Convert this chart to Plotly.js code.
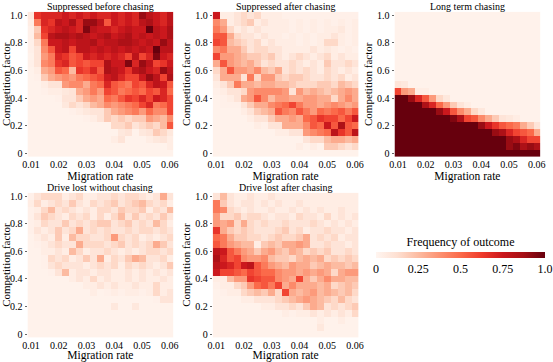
<!DOCTYPE html>
<html>
<head>
<meta charset="utf-8">
<script src="https://cdn.plot.ly/plotly-3.0.1.min.js"></script>
<style>html,body{margin:0;padding:0;background:#fff;}#chart{width:553px;height:362px;}</style>
</head>
<body>
<div id="chart"></div>
<script>
// Migration rate (columns) and competition factor (rows, listed top to bottom)
const migrationRate = [0.01,0.0125,0.015,0.0175,0.02,0.0225,0.025,0.0275,0.03,0.0325,0.035,0.0375,0.04,0.0425,0.045,0.0475,0.05,0.0525,0.055,0.0575,0.06];
const competitionFactor = [1.0,0.95,0.9,0.85,0.8,0.75,0.7,0.65,0.6,0.55,0.5,0.45,0.4,0.35,0.3,0.25,0.2,0.15,0.1,0.05,0.0];
const xTickVals = [0.01,0.02,0.03,0.04,0.05,0.06];
const xTickText = ['0.01','0.02','0.03','0.04','0.05','0.06'];
const yTickVals = [0,0.2,0.4,0.6,0.8,1.0];
const yTickText = ['0','0.2','0.4','0.6','0.8','1.0'];
const cbTickVals = [0,0.25,0.5,0.75,1.0];
const cbTickText = ['0','0.25','0.5','0.75','1.0'];
const panelTitles = ['Suppressed before chasing','Suppressed after chasing','Long term chasing','Drive lost without chasing','Drive lost after chasing'];

// Frequency of outcome, rows from competition factor 1.0 (top) to 0 (bottom)
const suppressedBefore = [
[0.08,0.65,0.7,0.7,0.7,0.75,0.7,0.75,0.7,0.75,0.7,0.7,0.75,0.7,0.75,0.7,0.9,0.8,0.75,0.7,0.8],
[0.05,0.45,0.7,0.65,0.8,0.75,0.85,0.7,0.9,0.9,0.8,0.55,0.75,0.7,0.75,0.7,0.8,0.85,0.75,0.7,0.8],
[0.03,0.2,0.65,0.7,0.75,0.8,0.75,0.7,0.95,0.8,0.75,0.75,0.7,0.75,0.8,0.75,0.75,1.0,0.8,0.75,0.85],
[0.03,0.25,0.6,0.8,0.85,0.85,0.8,0.85,0.8,0.75,0.8,0.85,0.75,0.8,0.85,0.75,0.8,0.75,0.8,0.75,0.85],
[0.03,0.15,0.45,0.75,0.75,0.8,0.75,0.8,0.8,0.85,0.75,0.8,0.8,0.85,0.85,0.8,0.75,0.8,0.75,0.9,0.8],
[0.03,0.1,0.4,0.55,0.75,0.8,0.6,0.8,0.8,0.75,0.8,0.75,0.8,0.75,0.8,0.75,0.8,0.75,1.0,0.8,0.8],
[0.02,0.1,0.35,0.45,0.7,0.65,0.55,0.6,0.75,0.7,0.75,0.7,0.75,0.7,0.6,0.8,0.6,0.7,0.95,0.75,0.7],
[0.03,0.1,0.4,0.45,0.65,0.7,0.55,0.6,0.55,0.6,0.6,0.85,0.75,0.75,0.95,0.7,0.9,0.8,0.6,0.65,0.75],
[0.02,0.05,0.3,0.35,0.55,0.5,0.25,0.65,0.6,0.7,0.55,0.85,0.8,0.75,0.65,0.8,0.85,0.75,0.7,0.9,0.8],
[0.02,0.03,0.2,0.3,0.35,0.4,0.35,0.45,0.5,0.55,0.6,0.75,0.8,0.7,0.6,0.6,0.75,0.9,0.8,0.6,0.85],
[0.02,0.02,0.05,0.1,0.1,0.35,0.4,0.4,0.3,0.45,0.5,0.7,0.55,0.5,0.45,0.6,0.55,0.7,0.8,0.75,0.55],
[0.02,0.02,0.03,0.05,0.05,0.08,0.1,0.3,0.35,0.45,0.35,0.6,0.55,0.45,0.5,0.55,0.5,0.6,0.55,0.7,0.5],
[0.02,0.02,0.02,0.02,0.03,0.1,0.1,0.2,0.3,0.35,0.3,0.5,0.45,0.55,0.65,0.6,0.7,0.6,0.75,0.7,0.6],
[0.02,0.02,0.02,0.02,0.02,0.08,0.15,0.1,0.15,0.25,0.3,0.4,0.35,0.4,0.45,0.5,0.6,0.7,0.45,0.5,0.6],
[0.02,0.02,0.02,0.02,0.02,0.02,0.03,0.05,0.08,0.1,0.1,0.2,0.3,0.35,0.4,0.45,0.35,0.5,0.4,0.4,0.6],
[0.02,0.02,0.02,0.02,0.02,0.02,0.02,0.02,0.03,0.05,0.1,0.2,0.15,0.2,0.15,0.2,0.2,0.35,0.3,0.25,0.4],
[0.02,0.02,0.02,0.02,0.02,0.02,0.02,0.02,0.02,0.02,0.02,0.02,0.15,0.15,0.2,0.1,0.15,0.2,0.15,0.25,0.55],
[0.02,0.02,0.02,0.02,0.02,0.02,0.02,0.02,0.02,0.02,0.02,0.02,0.02,0.08,0.1,0.02,0.08,0.1,0.2,0.15,0.08],
[0.02,0.02,0.02,0.02,0.02,0.02,0.02,0.02,0.02,0.02,0.02,0.02,0.05,0.1,0.02,0.02,0.02,0.05,0.08,0.1,0.05],
[0.02,0.02,0.02,0.02,0.02,0.02,0.02,0.02,0.02,0.02,0.02,0.02,0.02,0.02,0.02,0.02,0.02,0.02,0.02,0.02,0.05],
[0.02,0.02,0.02,0.02,0.02,0.02,0.02,0.02,0.02,0.02,0.02,0.02,0.02,0.02,0.02,0.02,0.02,0.02,0.02,0.02,0.02]
];

const suppressedAfter = [
[0.75,0.05,0.05,0.1,0.15,0.1,0.15,0.05,0.05,0.05,0.03,0.03,0.03,0.03,0.03,0.03,0.03,0.03,0.03,0.03,0.03],
[0.4,0.3,0.05,0.1,0.15,0.2,0.05,0.1,0.05,0.05,0.05,0.03,0.05,0.03,0.05,0.03,0.05,0.03,0.05,0.03,0.05],
[0.45,0.35,0.15,0.05,0.1,0.05,0.1,0.05,0.05,0.05,0.05,0.03,0.05,0.03,0.05,0.03,0.05,0.05,0.08,0.03,0.05],
[0.55,0.55,0.3,0.15,0.1,0.1,0.05,0.1,0.05,0.05,0.03,0.05,0.03,0.05,0.03,0.05,0.05,0.1,0.05,0.03,0.05],
[0.6,0.55,0.25,0.2,0.15,0.1,0.15,0.05,0.1,0.05,0.05,0.05,0.03,0.05,0.03,0.05,0.15,0.15,0.05,0.03,0.05],
[0.4,0.45,0.3,0.3,0.2,0.1,0.15,0.15,0.1,0.1,0.05,0.05,0.05,0.05,0.1,0.05,0.08,0.05,0.03,0.05,0.03],
[0.6,0.35,0.35,0.3,0.25,0.2,0.2,0.15,0.2,0.1,0.05,0.1,0.15,0.1,0.05,0.1,0.15,0.05,0.1,0.05,0.05],
[0.3,0.55,0.35,0.3,0.25,0.3,0.2,0.1,0.15,0.1,0.1,0.15,0.1,0.05,0.1,0.05,0.2,0.1,0.1,0.15,0.1],
[0.15,0.3,0.55,0.35,0.35,0.3,0.4,0.25,0.2,0.3,0.1,0.15,0.1,0.15,0.1,0.05,0.15,0.1,0.05,0.1,0.05],
[0.1,0.3,0.3,0.3,0.1,0.45,0.15,0.35,0.35,0.2,0.15,0.2,0.2,0.15,0.1,0.1,0.15,0.1,0.15,0.05,0.1],
[0.05,0.1,0.2,0.45,0.3,0.3,0.25,0.3,0.3,0.25,0.25,0.2,0.15,0.15,0.15,0.2,0.2,0.15,0.25,0.2,0.15],
[0.03,0.05,0.1,0.1,0.15,0.35,0.4,0.4,0.4,0.4,0.35,0.1,0.35,0.25,0.3,0.25,0.2,0.25,0.3,0.35,0.3],
[0.02,0.03,0.05,0.1,0.3,0.35,0.55,0.4,0.25,0.35,0.35,0.3,0.3,0.35,0.35,0.3,0.3,0.15,0.3,0.4,0.3],
[0.02,0.03,0.03,0.03,0.1,0.2,0.3,0.3,0.4,0.45,0.5,0.6,0.45,0.35,0.35,0.3,0.35,0.4,0.35,0.3,0.35],
[0.02,0.02,0.02,0.02,0.05,0.1,0.2,0.25,0.3,0.55,0.45,0.4,0.55,0.45,0.35,0.5,0.45,0.5,0.55,0.45,0.55],
[0.02,0.02,0.02,0.02,0.02,0.05,0.1,0.1,0.2,0.3,0.3,0.35,0.3,0.5,0.55,0.65,0.6,0.6,0.5,0.6,0.75],
[0.02,0.02,0.02,0.02,0.02,0.02,0.05,0.03,0.1,0.1,0.3,0.3,0.3,0.4,0.55,0.5,0.75,0.55,0.85,0.55,0.5],
[0.02,0.02,0.02,0.02,0.02,0.02,0.02,0.02,0.02,0.05,0.05,0.1,0.1,0.35,0.4,0.45,0.5,0.8,0.65,0.55,0.8],
[0.02,0.02,0.02,0.02,0.02,0.02,0.02,0.02,0.02,0.02,0.02,0.02,0.02,0.1,0.15,0.15,0.25,0.3,0.3,0.25,0.3],
[0.02,0.02,0.02,0.02,0.02,0.02,0.02,0.02,0.02,0.02,0.02,0.02,0.05,0.02,0.05,0.02,0.2,0.2,0.15,0.1,0.15],
[0.02,0.02,0.02,0.02,0.02,0.02,0.02,0.02,0.02,0.02,0.02,0.02,0.02,0.02,0.02,0.02,0.02,0.02,0.02,0.02,0.02]
];

const longTermChasing = [
[0.02,0.02,0.02,0.02,0.02,0.02,0.02,0.02,0.02,0.02,0.02,0.02,0.02,0.02,0.02,0.02,0.02,0.02,0.02,0.02,0.02],
[0.02,0.02,0.02,0.02,0.02,0.02,0.02,0.02,0.02,0.02,0.02,0.02,0.02,0.02,0.02,0.02,0.02,0.02,0.02,0.02,0.02],
[0.02,0.02,0.02,0.02,0.02,0.02,0.02,0.02,0.02,0.02,0.02,0.02,0.02,0.02,0.02,0.02,0.02,0.02,0.02,0.02,0.02],
[0.02,0.02,0.02,0.02,0.02,0.02,0.02,0.02,0.02,0.02,0.02,0.02,0.02,0.02,0.02,0.02,0.02,0.02,0.02,0.02,0.02],
[0.02,0.02,0.02,0.02,0.02,0.02,0.02,0.02,0.02,0.02,0.02,0.02,0.02,0.02,0.02,0.02,0.02,0.02,0.02,0.02,0.02],
[0.02,0.02,0.02,0.02,0.02,0.02,0.02,0.02,0.02,0.02,0.02,0.02,0.02,0.02,0.02,0.02,0.02,0.02,0.02,0.02,0.02],
[0.02,0.02,0.02,0.02,0.02,0.02,0.02,0.02,0.02,0.02,0.02,0.02,0.02,0.02,0.02,0.02,0.02,0.02,0.02,0.02,0.02],
[0.02,0.02,0.02,0.02,0.02,0.02,0.02,0.02,0.02,0.02,0.02,0.02,0.02,0.02,0.02,0.02,0.02,0.02,0.02,0.02,0.02],
[0.02,0.02,0.02,0.02,0.02,0.02,0.02,0.02,0.02,0.02,0.02,0.02,0.02,0.02,0.02,0.02,0.02,0.02,0.02,0.02,0.02],
[0.02,0.02,0.02,0.02,0.02,0.02,0.02,0.02,0.02,0.02,0.02,0.02,0.02,0.02,0.02,0.02,0.02,0.02,0.02,0.02,0.02],
[0.1,0.08,0.02,0.02,0.02,0.02,0.02,0.02,0.02,0.02,0.02,0.02,0.02,0.02,0.02,0.02,0.02,0.02,0.02,0.02,0.02],
[0.6,0.35,0.3,0.05,0.05,0.02,0.02,0.02,0.02,0.02,0.02,0.02,0.02,0.02,0.02,0.02,0.02,0.02,0.02,0.02,0.02],
[1,1,0.9,0.7,0.55,0.35,0.15,0.08,0.02,0.02,0.02,0.02,0.02,0.02,0.02,0.02,0.02,0.02,0.02,0.02,0.02],
[1,1,1,1,0.85,0.7,0.5,0.35,0.2,0.1,0.05,0.02,0.02,0.02,0.02,0.02,0.02,0.02,0.02,0.02,0.02],
[1,1,1,1,1,1,0.9,0.75,0.55,0.4,0.3,0.15,0.08,0.02,0.02,0.02,0.02,0.02,0.02,0.02,0.02],
[1,1,1,1,1,1,1,1,0.95,0.85,0.6,0.55,0.4,0.3,0.2,0.1,0.08,0.05,0.02,0.02,0.02],
[1,1,1,1,1,1,1,1,1,1,1,1,0.9,0.75,0.65,0.55,0.5,0.45,0.3,0.2,0.1],
[1,1,1,1,1,1,1,1,1,1,1,1,1,1,0.9,0.85,0.7,0.6,0.55,0.5,0.3],
[1,1,1,1,1,1,1,1,1,1,1,1,1,1,1,1,0.9,0.85,0.7,0.6,0.6],
[1,1,1,1,1,1,1,1,1,1,1,1,1,1,1,1,0.9,0.95,0.85,0.9,0.85],
[1,1,1,1,1,1,1,1,1,1,1,1,1,1,1,1,1,1,1,1,1]
];

const driveLostWithout = [
[0.03,0.1,0.15,0.15,0.15,0.05,0.1,0.15,0.05,0.05,0.1,0.1,0.15,0.1,0.15,0.15,0.1,0.05,0.1,0.3,0.1],
[0.05,0.15,0.05,0.1,0.15,0.1,0.2,0.1,0.05,0.15,0.1,0.15,0.2,0.1,0.15,0.2,0.25,0.15,0.1,0.15,0.05],
[0.03,0.05,0.15,0.25,0.1,0.15,0.1,0.05,0.1,0.05,0.15,0.15,0.1,0.2,0.15,0.15,0.2,0.05,0.15,0.1,0.25],
[0.03,0.1,0.2,0.15,0.1,0.05,0.15,0.1,0.15,0.05,0.15,0.05,0.15,0.25,0.1,0.2,0.1,0.15,0.1,0.2,0.1],
[0.03,0.05,0.15,0.1,0.1,0.2,0.1,0.15,0.1,0.15,0.2,0.2,0.1,0.15,0.2,0.1,0.15,0.1,0.25,0.15,0.05],
[0.03,0.1,0.05,0.1,0.2,0.1,0.15,0.3,0.1,0.15,0.1,0.15,0.1,0.1,0.15,0.1,0.15,0.15,0.1,0.15,0.1],
[0.02,0.05,0.1,0.05,0.2,0.05,0.25,0.15,0.15,0.1,0.1,0.15,0.35,0.15,0.1,0.15,0.05,0.1,0.05,0.1,0.15],
[0.02,0.03,0.05,0.1,0.15,0.1,0.1,0.3,0.15,0.15,0.15,0.1,0.15,0.2,0.1,0.15,0.1,0.15,0.3,0.2,0.1],
[0.02,0.02,0.05,0.05,0.1,0.05,0.25,0.15,0.05,0.1,0.1,0.15,0.1,0.05,0.1,0.05,0.1,0.15,0.15,0.1,0.15],
[0.02,0.02,0.03,0.15,0.1,0.15,0.05,0.1,0.2,0.1,0.3,0.05,0.15,0.1,0.2,0.3,0.25,0.1,0.1,0.15,0.05],
[0.02,0.02,0.03,0.1,0.15,0.1,0.1,0.1,0.05,0.1,0.15,0.1,0.15,0.05,0.15,0.1,0.15,0.1,0.05,0.1,0.2],
[0.02,0.02,0.02,0.03,0.1,0.25,0.05,0.1,0.1,0.05,0.1,0.1,0.05,0.05,0.1,0.05,0.1,0.05,0.1,0.05,0.1],
[0.02,0.02,0.02,0.02,0.02,0.02,0.05,0.1,0.05,0.15,0.05,0.1,0.05,0.05,0.1,0.05,0.1,0.05,0.05,0.1,0.05],
[0.02,0.02,0.02,0.02,0.02,0.02,0.02,0.02,0.05,0.05,0.1,0.05,0.1,0.05,0.05,0.1,0.05,0.05,0.15,0.05,0.05],
[0.02,0.02,0.02,0.02,0.02,0.02,0.02,0.02,0.02,0.05,0.02,0.03,0.05,0.03,0.05,0.05,0.03,0.05,0.15,0.05,0.1],
[0.02,0.02,0.02,0.02,0.02,0.02,0.02,0.02,0.02,0.02,0.02,0.02,0.02,0.02,0.02,0.02,0.02,0.02,0.03,0.1,0.1],
[0.02,0.02,0.02,0.02,0.02,0.02,0.02,0.02,0.02,0.02,0.02,0.02,0.08,0.02,0.02,0.08,0.02,0.02,0.02,0.02,0.02],
[0.02,0.02,0.02,0.02,0.02,0.02,0.02,0.02,0.02,0.02,0.02,0.02,0.02,0.02,0.02,0.02,0.02,0.02,0.02,0.02,0.02],
[0.02,0.02,0.02,0.02,0.02,0.02,0.02,0.02,0.02,0.02,0.02,0.02,0.02,0.02,0.02,0.02,0.02,0.02,0.02,0.02,0.02],
[0.02,0.02,0.02,0.02,0.02,0.02,0.02,0.02,0.02,0.02,0.02,0.02,0.02,0.02,0.02,0.02,0.02,0.02,0.02,0.02,0.02],
[0.02,0.02,0.02,0.02,0.02,0.02,0.02,0.02,0.02,0.02,0.02,0.02,0.02,0.02,0.02,0.02,0.02,0.02,0.02,0.02,0.02]
];

const driveLostAfter = [
[0.1,0.25,0.1,0.05,0.05,0.1,0.05,0.05,0.1,0.05,0.05,0.05,0.05,0.05,0.05,0.05,0.05,0.05,0.05,0.05,0.05],
[0.45,0.2,0.1,0.05,0.1,0.1,0.05,0.1,0.05,0.1,0.05,0.05,0.1,0.05,0.05,0.05,0.05,0.05,0.05,0.05,0.05],
[0.45,0.4,0.15,0.1,0.05,0.1,0.05,0.05,0.1,0.05,0.05,0.1,0.05,0.1,0.05,0.1,0.05,0.05,0.1,0.05,0.05],
[0.35,0.15,0.15,0.2,0.1,0.15,0.15,0.1,0.05,0.1,0.1,0.05,0.15,0.1,0.1,0.05,0.15,0.05,0.1,0.05,0.1],
[0.35,0.3,0.35,0.15,0.3,0.15,0.1,0.15,0.1,0.1,0.15,0.1,0.1,0.1,0.15,0.1,0.05,0.1,0.05,0.1,0.05],
[0.65,0.3,0.2,0.15,0.2,0.15,0.1,0.1,0.1,0.15,0.2,0.1,0.15,0.05,0.1,0.1,0.15,0.1,0.1,0.05,0.1],
[0.5,0.45,0.3,0.2,0.2,0.15,0.15,0.1,0.15,0.2,0.15,0.15,0.2,0.3,0.1,0.15,0.1,0.15,0.05,0.1,0.1],
[0.55,0.45,0.35,0.3,0.25,0.25,0.05,0.2,0.25,0.2,0.3,0.3,0.35,0.3,0.1,0.1,0.15,0.1,0.1,0.05,0.1],
[0.8,0.75,0.55,0.45,0.35,0.3,0.2,0.3,0.35,0.25,0.2,0.3,0.25,0.15,0.2,0.15,0.2,0.1,0.1,0.15,0.1],
[0.85,0.7,0.55,0.6,0.4,0.35,0.35,0.4,0.25,0.2,0.2,0.15,0.25,0.3,0.25,0.3,0.15,0.2,0.15,0.2,0.15],
[0.8,0.75,0.7,0.6,0.75,0.8,0.55,0.45,0.35,0.3,0.25,0.35,0.3,0.3,0.2,0.25,0.3,0.25,0.25,0.2,0.25],
[0.75,0.6,0.6,0.55,0.5,0.6,0.55,0.5,0.5,0.4,0.35,0.35,0.3,0.35,0.3,0.35,0.3,0.15,0.3,0.35,0.35],
[0.05,0.05,0.25,0.35,0.35,0.65,0.6,0.55,0.55,0.4,0.35,0.3,0.6,0.3,0.2,0.3,0.4,0.3,0.3,0.25,0.25],
[0.03,0.05,0.05,0.15,0.2,0.35,0.5,0.55,0.45,0.6,0.3,0.4,0.3,0.3,0.3,0.25,0.3,0.15,0.2,0.25,0.2],
[0.02,0.03,0.05,0.05,0.15,0.2,0.25,0.2,0.3,0.15,0.6,0.3,0.25,0.3,0.35,0.25,0.3,0.25,0.2,0.25,0.15],
[0.02,0.02,0.02,0.02,0.05,0.05,0.1,0.1,0.1,0.15,0.2,0.25,0.3,0.35,0.3,0.25,0.2,0.15,0.25,0.15,0.1],
[0.02,0.02,0.02,0.02,0.02,0.02,0.02,0.05,0.05,0.1,0.1,0.15,0.1,0.2,0.3,0.25,0.1,0.15,0.1,0.15,0.2],
[0.02,0.02,0.02,0.02,0.02,0.02,0.02,0.02,0.02,0.02,0.05,0.03,0.05,0.05,0.1,0.05,0.1,0.05,0.1,0.05,0.15],
[0.02,0.02,0.02,0.02,0.02,0.02,0.02,0.02,0.02,0.02,0.02,0.02,0.02,0.02,0.02,0.05,0.02,0.02,0.05,0.02,0.02],
[0.02,0.02,0.02,0.02,0.02,0.02,0.02,0.02,0.02,0.02,0.02,0.02,0.02,0.02,0.02,0.08,0.02,0.02,0.02,0.02,0.02],
[0.02,0.02,0.02,0.02,0.02,0.02,0.02,0.02,0.02,0.02,0.02,0.02,0.02,0.02,0.02,0.02,0.02,0.02,0.02,0.02,0.02]
];

const panelData = [suppressedBefore, suppressedAfter, longTermChasing, driveLostWithout, driveLostAfter];

// Layout geometry (pixels)
const W = 553, H = 362;
const colsPx = [[27.5,173.3],[212.7,358.5],[394.5,540.3]];
const rowsPx = [[11.8,156.7],[192.7,337.5]];
const cells = [[0,0],[1,0],[2,0],[0,1],[1,1]];

const reds = [[0,'#fff5f0'],[0.125,'#fee0d2'],[0.25,'#fcbba1'],[0.375,'#fc9272'],[0.5,'#fb6a4a'],[0.625,'#ef3b2c'],[0.75,'#cb181d'],[0.875,'#a50f15'],[1,'#67000d']];
const FONT = 'Liberation Serif';

const traces = [];
const layout = {
  width: W, height: H,
  margin: {l:0, r:0, t:0, b:0},
  paper_bgcolor: '#ffffff', plot_bgcolor: '#ffffff',
  font: {family: FONT, color: '#000000', size: 10},
  showlegend: false,
  annotations: [],
  coloraxis: {
    colorscale: reds, cmin: 0, cmax: 1,
    colorbar: {
      orientation: 'h',
      x: 460.5 / W, xanchor: 'center',
      y: 1 - 238 / H, yanchor: 'top',
      len: 169 / W, lenmode: 'fraction',
      thickness: 6, thicknessmode: 'pixels',
      xpad: 0, ypad: 0, outlinewidth: 0,
      tickvals: cbTickVals, ticktext: cbTickText,
      ticks: '', tickfont: {family: FONT, size: 12, color: '#000'},
      title: {text: 'Frequency of outcome', side: 'top', font: {family: FONT, size: 12, color: '#000'}}
    }
  }
};

panelData.forEach((rows, i) => {
  const n = i + 1;
  const xk = n === 1 ? 'xaxis' : 'xaxis' + n;
  const yk = n === 1 ? 'yaxis' : 'yaxis' + n;
  const [c, r] = cells[i];
  const xd = [colsPx[c][0] / W, colsPx[c][1] / W];
  const yd = [1 - rowsPx[r][1] / H, 1 - rowsPx[r][0] / H];
  traces.push({
    type: 'heatmap',
    x: migrationRate, y: competitionFactor, z: rows,
    coloraxis: 'coloraxis',
    xaxis: 'x' + (n === 1 ? '' : n), yaxis: 'y' + (n === 1 ? '' : n),
    xgap: 0, ygap: 0, hoverinfo: 'x+y+z'
  });
  layout[xk] = {
    domain: xd, anchor: 'y' + (n === 1 ? '' : n),
    range: [0.00875, 0.06125], showgrid: false, zeroline: false, showline: false,
    tickvals: xTickVals, ticktext: xTickText, ticks: '', ticklen: 0,
    tickfont: {family: FONT, size: 10, color: '#000'},
    title: {text: 'Migration rate', font: {family: FONT, size: 11.5, color: '#000'}, standoff: 0},
    fixedrange: true
  };
  layout[yk] = {
    domain: yd, anchor: 'x' + (n === 1 ? '' : n),
    range: [-0.025, 1.025], showgrid: false, zeroline: false, showline: false,
    tickvals: yTickVals, ticktext: yTickText, ticks: 'outside', ticklen: 2, tickwidth: 1, tickcolor: '#666',
    tickfont: {family: FONT, size: 10, color: '#000'},
    title: {text: 'Competition factor', font: {family: FONT, size: 11, color: '#000'}, standoff: 2},
    fixedrange: true
  };
  layout.annotations.push({
    xref: 'paper', yref: 'paper',
    x: (xd[0] + xd[1]) / 2, y: 1 - (rowsPx[r][0] - 5.5) / H,
    xanchor: 'center', yanchor: 'middle', showarrow: false,
    text: panelTitles[i], font: {family: FONT, size: 10, color: '#000'}
  });
});

Plotly.newPlot('chart', traces, layout, {staticPlot: true, displayModeBar: false});
</script>
</body>
</html>
